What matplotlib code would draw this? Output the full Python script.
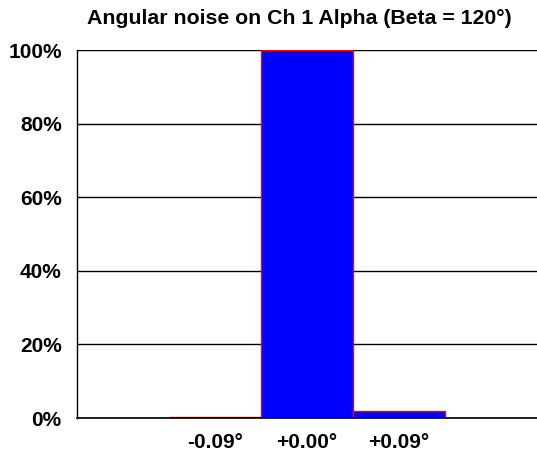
import matplotlib
matplotlib.use("Agg")
import matplotlib.pyplot as plt
from matplotlib.ticker import FuncFormatter

plt.rcParams['font.family'] = ['Liberation Sans', 'DejaVu Sans']

# Histogram bins of angular noise and share of samples in each (%)
bin_labels = ["", "-0.09°", "+0.00°", "+0.09°", ""]
shares = [0.0, 0.2, 100.0, 1.8, 0.0]
y_ticks = [0, 20, 40, 60, 80, 100]
title = "Angular noise on Ch 1 Alpha (Beta = 120°)"

fig = plt.figure(figsize=(5.37, 4.62), dpi=100)
ax = fig.add_axes([77 / 537, 44 / 462, 460 / 537, 368 / 462])

x = list(range(len(bin_labels)))
ax.bar(x, shares, width=1.0, color="#0000ff", edgecolor="#ff0000",
       linewidth=1.0, zorder=3)

ax.set_xlim(-0.5, len(bin_labels) - 0.5)
ax.set_ylim(0, 100)
ax.set_yticks(y_ticks)
ax.yaxis.set_major_formatter(FuncFormatter(lambda v, _: f"{v:.0f}%"))
ax.set_xticks(x)
ax.set_xticklabels(bin_labels)

ax.grid(axis="y", color="black", linewidth=1.0, zorder=1)
ax.set_axisbelow(True)
for side in ("top", "right"):
    ax.spines[side].set_visible(False)
ax.spines["left"].set_linewidth(1.0)
ax.spines["bottom"].set_linewidth(1.2)
ax.spines["bottom"].set_zorder(4)

ax.tick_params(axis="y", length=0, pad=11, labelsize=15)
ax.tick_params(axis="x", length=0, pad=10.5, labelsize=15)
for lbl in ax.get_xticklabels() + ax.get_yticklabels():
    lbl.set_fontweight("bold")

fig.text(0.557, 1 - 18 / 462, title, ha="center", va="center",
         fontsize=15.3, fontweight="bold")

fig.savefig("out.png", dpi=100)
